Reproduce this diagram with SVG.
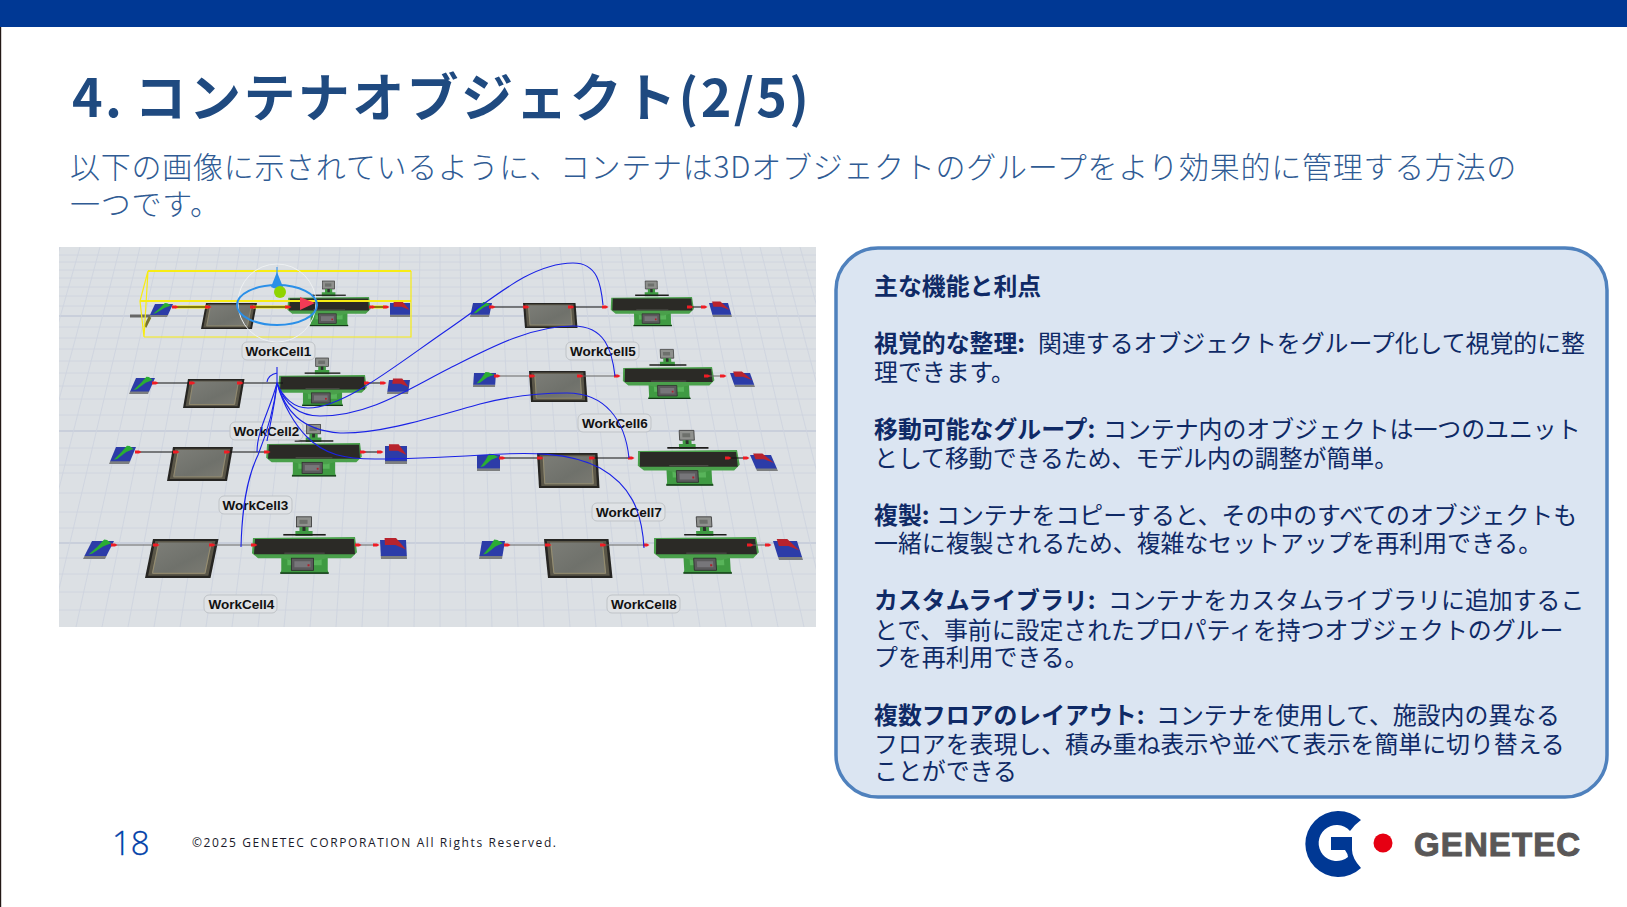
<svg xmlns="http://www.w3.org/2000/svg" width="1627" height="907" viewBox="0 0 1627 907">
<style>
text{font-family:"Noto Sans CJK JP","Noto Sans",sans-serif}
.title{font-size:52px;font-weight:700;fill:#1f4a80;letter-spacing:2.4px}
.sub{font-size:30px;font-weight:300;fill:#2f5b94;letter-spacing:.73px}
.body{font-size:23.88px;font-weight:400;fill:#0f2a66}
.b{font-weight:700}
.lab{font-family:"Liberation Sans",Arial,sans-serif;font-size:13.5px;font-weight:700;fill:#111;text-anchor:middle}
.labbox{fill:#dfe2e5;stroke:#bfc3c7;stroke-width:1}
.grid{fill:none;stroke:#ced4df;stroke-width:.9}
.gridb{fill:none;stroke:#c9cfdb;stroke-width:1.8}
.wire{fill:none;stroke:#111;stroke-width:1}
.wireg{fill:none;stroke:#666;stroke-width:1}
.curve{fill:none;stroke:#1a22e6;stroke-width:1.1}
</style>
<defs>
<clipPath id="clipShot"><rect x="59" y="247" width="757" height="380"/></clipPath>
<linearGradient id="qg" x1="0" y1="0" x2="1" y2="1"><stop offset="0" stop-color="#7c7d77"/><stop offset=".6" stop-color="#6f716b"/><stop offset="1" stop-color="#7a7a72"/></linearGradient>
<g id="queue">
<rect width="100" height="100" fill="#262522"/>
<rect x="4" y="5" width="92" height="89" fill="#5a5648"/>
<rect x="9" y="9" width="82" height="80" fill="url(#qg)"/>
<path d="M10,12V87M90,12V87M10,88H90" stroke="#a0946f" stroke-width="1.5" fill="none"/>
</g>
<g id="source">
<rect y="82" width="100" height="18" fill="#7d7f80"/>
<rect width="100" height="84" fill="#2c3ca8"/>
<path d="M15,75L38,30L52,-8L66,-6L92,12L62,30L30,70Z" fill="#2aae33"/>
</g>
<g id="sink">
<rect y="82" width="100" height="18" fill="#7d7f80"/>
<rect width="100" height="84" fill="#2c3ca8"/>
<path d="M18,-10H62L98,50L58,26H18Z" fill="#b8232d"/>
</g>
<g id="proc">
<rect x="42" y="-20" width="15" height="10" fill="#8f918e" stroke="#333" stroke-width=".8"/>
<rect x="45" y="-17" width="8" height="4" fill="#6d706c"/>
<path d="M45,-10H54V-6H58V-1H41V-6H45Z" fill="#3f9a42"/>
<rect x="48" y="-10" width="3" height="4" fill="#2c2f2c"/>
<rect x="29" y="-3" width="42" height="1.600" fill="#1d1d1b"/>
<path d="M27,17H73V33L74,36H26L27,33Z" fill="#3f9a42"/>
<path d="M33,18H67V28H33Z" fill="#58b45a"/>
<rect x="26" y="35" width="48" height="1.500" fill="#123a15"/>
<path d="M-1,1L100,0L102,15L96,21H72L64,23H36L28,21H4L-2,16Z" fill="#4aa04b"/>
<path d="M1,2H99L100,17H0Z" fill="#2b2a26"/>
<path d="M30,16H70" stroke="#6b6b66" stroke-width=".6" fill="none"/>
<rect x="37" y="21" width="22" height="12" fill="#5b5a5c" stroke="#2a2a2a" stroke-width=".8"/>
<rect x="40" y="24" width="16" height="6" fill="#77767a"/>
<rect x="53" y="27" width="2" height="2" fill="#b0202a"/>
</g>
<path id="port" d="M-3,-1.6H1L3.500,0L1,1.600H-3Z" fill="#ef1c24"/>
</defs>

<rect width="1627" height="907" fill="#fff"/>
<rect id="topbar" width="1627" height="27" fill="#003894"/>
<rect x="0" y="27" width="1.200" height="880" fill="#231815"/>

<text class="title" x="72" y="117">4.<tspan dx="-4"> コンテナオブジェクト(2/5)</tspan></text>
<text class="sub" x="70" y="178">以下の画像に示されているように、コンテナは3Dオブジェクトのグループをより効果的に管理する方法の</text>
<text class="sub" x="70" y="215">一つです。</text>

<g id="screenshot" clip-path="url(#clipShot)">
<rect x="59" y="247" width="757" height="380" fill="#dce0e4"/>
<path class="grid" d="M59,255H816M59,262H816M59,270H816M59,278H816M59,287H816M59,296H816M59,306H816M59,327H816M59,338H816M59,349H816M59,361H816M59,373H816M59,386H816M59,399H816M59,415H816M59,448H816M59,465H816M59,473H816M59,493H816M59,512H816M59,528H816M59,558H816M59,574H816M59,592H816M59,610H816"/>
<path class="gridb" d="M59,316H816M59,431H816M59,543H816"/>
<path class="grid" d="M60,247L-54,627M80,247L-28,627M100,247L-2,627M120,247L24,627M140,247L50,627M160,247L76,627M180,247L102,627M200,247L128,627M220,247L154,627M240,247L180,627M260,247L206,627M280,247L232,627M300,247L258,627M320,247L284,627M340,247L310,627M360,247L336,627M380,247L362,627M400,247L388,627M420,247L414,627M440,247L440,627M460,247L466,627M480,247L492,627M500,247L518,627M520,247L544,627M540,247L570,627M560,247L596,627M580,247L622,627M600,247L648,627M620,247L674,627M640,247L700,627M660,247L726,627M680,247L752,627M700,247L778,627M720,247L804,627M740,247L830,627M760,247L856,627M780,247L882,627M800,247L908,627"/>

<g id="src1"><use href="#source" transform="matrix(.18,0,-.06,.13,155,304)"/></g>
<g id="queue1"><use href="#queue" transform="matrix(.51,0,-.05,.26,206,303)"/></g>
<g id="proc1"><use href="#proc" transform="matrix(.8,0,0,.8,289,297)"/></g>
<g id="sink1"><use href="#sink" transform="matrix(.2,0,0,.14,390,303)"/></g>

<g id="src2"><use href="#source" transform="matrix(.19,0,-.07,.16,136,378)"/></g>
<g id="queue2"><use href="#queue" transform="matrix(.565,0,-.05,.29,188,379)"/></g>
<g id="proc2"><use href="#proc" transform="matrix(.85,0,0,.85,280,375)"/></g>
<g id="sink2"><use href="#sink" transform="matrix(.21,0,-.02,.14,389,380)"/></g>

<g id="src3"><use href="#source" transform="matrix(.2,0,-.07,.17,116,447)"/></g>
<g id="queue3"><use href="#queue" transform="matrix(.6,0,-.06,.34,173,447)"/></g>
<g id="proc3"><use href="#proc" transform="matrix(.92,0,0,.92,268,443)"/></g>
<g id="sink3"><use href="#sink" transform="matrix(.22,0,0,.18,385,446)"/></g>

<g id="src4"><use href="#source" transform="matrix(.22,0,-.09,.18,92,541)"/></g>
<g id="queue4"><use href="#queue" transform="matrix(.655,0,-.08,.39,153,539)"/></g>
<g id="proc4"><use href="#proc" transform="matrix(1.01,0,0,1.01,254,537)"/></g>
<g id="sink4"><use href="#sink" transform="matrix(.26,0,.01,.19,380,540)"/></g>

<g id="src5"><use href="#source" transform="matrix(.19,0,-.03,.14,473,303)"/></g>
<g id="queue5"><use href="#queue" transform="matrix(.525,0,.02,.25,523,303)"/></g>
<g id="proc5"><use href="#proc" transform="matrix(.8,0,.02,.8,612,297)"/></g>
<g id="sink5"><use href="#sink" transform="matrix(.19,0,.04,.14,709,303)"/></g>

<g id="src6"><use href="#source" transform="matrix(.22,0,-.01,.14,474,373)"/></g>
<g id="queue6"><use href="#queue" transform="matrix(.565,0,.02,.31,529,371)"/></g>
<g id="proc6"><use href="#proc" transform="matrix(.88,0,.04,.88,624,367)"/></g>
<g id="sink6"><use href="#sink" transform="matrix(.2,0,.05,.14,730,373)"/></g>

<g id="src7"><use href="#source" transform="matrix(.23,0,0,.16,477,455)"/></g>
<g id="queue7"><use href="#queue" transform="matrix(.605,0,.02,.35,537,453)"/></g>
<g id="proc7"><use href="#proc" transform="matrix(.98,0,.05,.98,639,450)"/></g>
<g id="sink7"><use href="#sink" transform="matrix(.21,0,.07,.16,750,455)"/></g>

<g id="src8"><use href="#source" transform="matrix(.23,0,-.03,.18,482,541)"/></g>
<g id="queue8"><use href="#queue" transform="matrix(.645,0,.04,.39,544,539)"/></g>
<g id="proc8"><use href="#proc" transform="matrix(1.01,0,.06,1.01,655,537)"/></g>
<g id="sink8"><use href="#sink" transform="matrix(.24,0,.06,.19,773,541)"/></g>

<g id="label1"><rect class="labbox" x="242" y="342" width="73" height="18" rx="5"/><text class="lab" x="278.500" y="355.500">WorkCell1</text></g>
<g id="label2"><rect class="labbox" x="230" y="422" width="73" height="18" rx="5"/><text class="lab" x="266.500" y="435.500">WorkCell2</text></g>
<g id="label3"><rect class="labbox" x="219" y="496" width="73" height="18" rx="5"/><text class="lab" x="255.500" y="509.500">WorkCell3</text></g>
<g id="label4"><rect class="labbox" x="204" y="595" width="73" height="18" rx="5"/><text class="lab" x="241.500" y="608.500">WorkCell4</text></g>
<g id="label5"><rect class="labbox" x="566" y="342" width="73" height="18" rx="5"/><text class="lab" x="603" y="355.500">WorkCell5</text></g>
<g id="label6"><rect class="labbox" x="578" y="414" width="73" height="18" rx="5"/><text class="lab" x="615" y="427.500">WorkCell6</text></g>
<g id="label7"><rect class="labbox" x="592" y="503" width="73" height="18" rx="5"/><text class="lab" x="629" y="516.500">WorkCell7</text></g>
<g id="label8"><rect class="labbox" x="607" y="595" width="73" height="18" rx="5"/><text class="lab" x="644" y="608.500">WorkCell8</text></g>

<g id="connectors">
<path d="M175,307H208M253,307H288M372,307H386" fill="none" stroke="#f6e800" stroke-width="3"/>
<path class="wire" d="M175,307H208M253,307H288M372,307H386"/>
<path class="wire" d="M155,383H192M240,383H283M367,383H383"/>
<path class="wire" d="M138,452H176M227,452H267M363,452H380"/>
<path class="wireg" d="M114,545H156M212,545H254M358,545H376"/>
<path class="wire" d="M492,307H526M571,307H605M690,307H704"/>
<path class="wireg" d="M497,376H532M580,376H617M707,376H723"/>
<path class="wire" d="M502,458H540M592,458H631M728,458H746"/>
<path class="wireg" d="M507,545H548M603,545H646M750,545H768"/>
<g id="ports">
<use href="#port" x="175" y="307"/><use href="#port" x="208" y="307"/><use href="#port" x="253" y="307"/><use href="#port" x="288" y="307"/><use href="#port" x="372" y="307"/><use href="#port" x="386" y="307"/>
<use href="#port" x="155" y="383"/><use href="#port" x="192" y="383"/><use href="#port" x="240" y="383"/><use href="#port" x="367" y="383"/><use href="#port" x="383" y="383"/>
<use href="#port" x="138" y="452"/><use href="#port" x="176" y="452"/><use href="#port" x="227" y="452"/><use href="#port" x="267" y="452"/><use href="#port" x="363" y="452"/><use href="#port" x="380" y="452"/>
<use href="#port" x="114" y="545"/><use href="#port" x="156" y="545"/><use href="#port" x="212" y="545"/><use href="#port" x="254" y="545"/><use href="#port" x="358" y="545"/><use href="#port" x="376" y="545"/>
<use href="#port" x="492" y="307"/><use href="#port" x="526" y="307"/><use href="#port" x="571" y="307"/><use href="#port" x="605" y="307"/><use href="#port" x="690" y="307"/><use href="#port" x="704" y="307"/>
<use href="#port" x="497" y="376"/><use href="#port" x="532" y="376"/><use href="#port" x="580" y="376"/><use href="#port" x="617" y="376"/><use href="#port" x="707" y="376"/><use href="#port" x="723" y="376"/>
<use href="#port" x="502" y="458"/><use href="#port" x="540" y="458"/><use href="#port" x="592" y="458"/><use href="#port" x="631" y="458"/><use href="#port" x="728" y="458"/><use href="#port" x="746" y="458"/>
<use href="#port" x="507" y="545"/><use href="#port" x="548" y="545"/><use href="#port" x="603" y="545"/><use href="#port" x="646" y="545"/><use href="#port" x="750" y="545"/><use href="#port" x="768" y="545"/>
</g>
<path class="curve" d="M277,383C283,398 294,408 308,408C345,408 400,362 450,328C490,301 530,263 573,263C598,263 601,285 603,305"/>
<path class="curve" d="M277,383C285,405 300,416 320,416C370,416 410,388 450,368C490,348 530,326 573,326C605,326 612,350 615,376"/>
<path class="curve" d="M277,383C285,410 300,430 340,433C380,434 430,418 480,404C515,395 540,393 567,393C605,393 625,420 629,458"/>
<path class="curve" d="M277,383C283,405 295,425 307,437C325,455 345,459 375,459C400,459 430,458 483,455C530,452 570,452 600,468C630,485 642,510 644,548"/>
<path class="curve" d="M241,547C242,510 246,480 258,455C268,430 274,410 277,383"/>
<path class="curve" d="M257,452C257,430 270,410 277,383"/>
<path class="curve" d="M267,441C270,425 275,405 277,383"/>
<path class="curve" d="M267,382C268,376 272,374 277,373M277,367V383"/>
</g>

<g id="selection">
<path d="M130,316H150" stroke="#666" stroke-width="3" fill="none"/>
<path d="M150,317L145,327" stroke="#7a7430" stroke-width="3" fill="none"/>
<path d="M148,271H411M140,301H411" stroke="#f7ec13" stroke-width="2" fill="none"/>
<path d="M144,337H411V271M148,271L140,301L144,337L148,271" stroke="#f7ec13" stroke-width="1.200" fill="none"/>
<circle cx="277" cy="303" r="39" fill="none" stroke="#eef1f3" stroke-width="1"/>
<ellipse cx="277" cy="305" rx="40" ry="20" fill="none" stroke="#2a8fe8" stroke-width="2"/>
<path d="M277,267V275" stroke="#2a8fe8" stroke-width="1"/>
<path d="M277,272L283,287Q277,290 271,287Z" fill="#2a8fe8"/>
<circle cx="280" cy="292" r="6" fill="#8fd400"/>
<path d="M300,297L315,303L300,310Z" fill="#f43b55"/>
</g>
</g>

<g id="panel">
<rect x="836" y="248" width="771" height="549" rx="42" fill="#dbe5f2" stroke="#4f81bd" stroke-width="3.500"/>
<text class="body">
<tspan class="b" x="874" y="295">主な機能と利点</tspan>
<tspan class="b" x="874" y="352">視覚的な整理:</tspan><tspan x="1038" y="352">関連するオブジェクトをグループ化して視覚的に整</tspan>
<tspan x="874" y="381">理できます。</tspan>
<tspan class="b" x="874" y="438">移動可能なグループ:</tspan><tspan x="1103" y="438">コンテナ内のオブジェクトは一つのユニット</tspan>
<tspan x="874" y="467">として移動できるため、モデル内の調整が簡単。</tspan>
<tspan class="b" x="874" y="524">複製:</tspan><tspan x="936" y="524">コンテナをコピーすると、その中のすべてのオブジェクトも</tspan>
<tspan x="874" y="552">一緒に複製されるため、複雑なセットアップを再利用できる。</tspan>
<tspan class="b" x="874" y="609">カスタムライブラリ:</tspan><tspan x="1108" y="609">コンテナをカスタムライブラリに追加するこ</tspan>
<tspan x="874" y="639">とで、事前に設定されたプロパティを持つオブジェクトのグルー</tspan>
<tspan x="874" y="666">プを再利用できる。</tspan>
<tspan class="b" x="874" y="724">複数フロアのレイアウト:</tspan><tspan x="1156" y="724">コンテナを使用して、施設内の異なる</tspan>
<tspan x="874" y="753">フロアを表現し、積み重ね表示や並べて表示を簡単に切り替える</tspan>
<tspan x="874" y="780">ことができる</tspan>
</text>
</g>

<text id="pageno" x="112" y="855" style="font-family:'Open Sans','Noto Sans',sans-serif;font-size:33px;font-weight:300;fill:#0040a8;stroke:#0040a8;stroke-width:.3">18</text>
<text id="copyright" x="192" y="847" textLength="364" style="font-family:'Open Sans','Noto Sans',sans-serif;font-size:12px;fill:#1a1a2a">©2025 GENETEC CORPORATION All Rights Reserved.</text>

<g id="logo">
<path d="M1361,820A33,33 0 1 0 1361,868Q1352,858 1352,850L1352,837L1331,837L1331,850L1345,850Q1348,854 1348,857A18,18 0 1 1 1350,831Q1354,825 1361,820Z" fill="#003894"/>
<circle cx="1383" cy="843" r="9.500" fill="#e60012"/>
<text x="1414" y="856" style="font-family:'Liberation Sans',Arial,sans-serif;font-size:33px;font-weight:700;fill:#595757;stroke:#595757;stroke-width:1;letter-spacing:1.1px">GENETEC</text>
</g>
</svg>
